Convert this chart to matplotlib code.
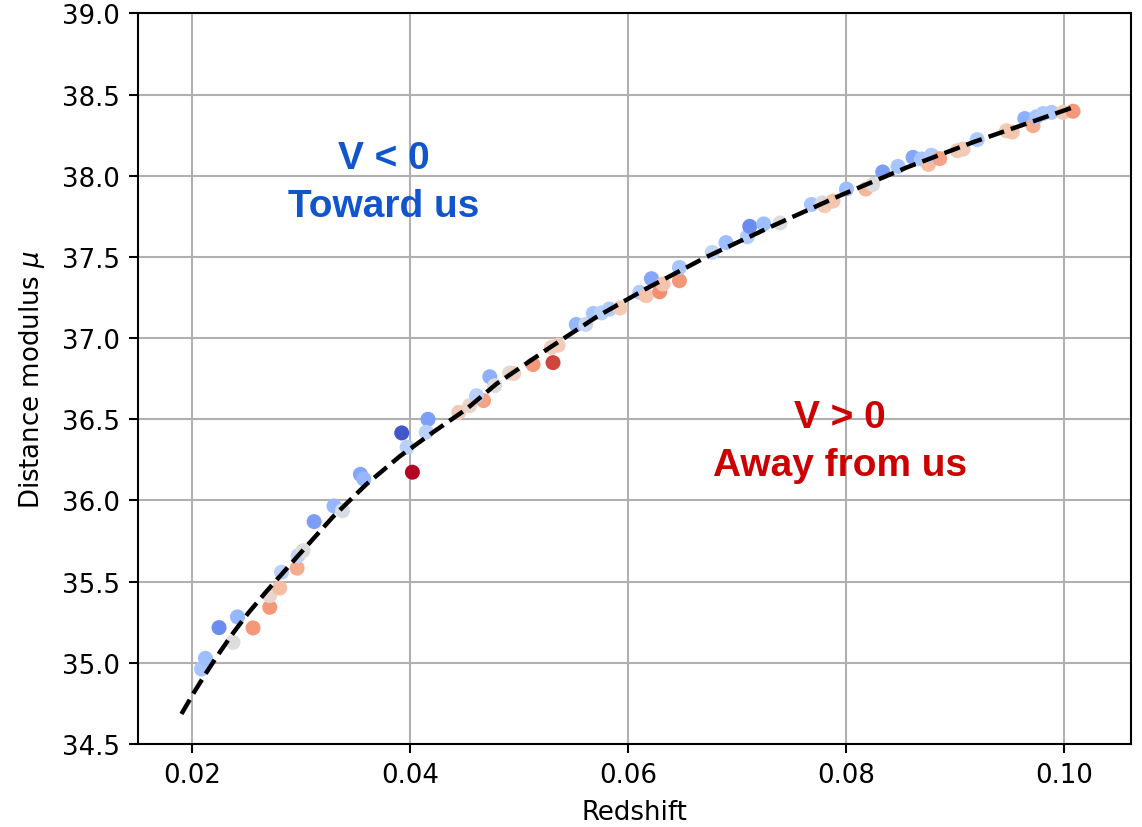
import matplotlib
matplotlib.use("Agg")
import matplotlib.pyplot as plt

# ── Observed supernovae: redshift, distance modulus, peculiar velocity (colour) ──
redshift = [
    0.02083, 0.02119, 0.02244, 0.02413, 0.02372, 0.02556, 0.02709, 0.02709,
    0.02801, 0.02817, 0.02960, 0.02969, 0.03015, 0.03116, 0.03299, 0.03376,
    0.03541, 0.03572, 0.03920, 0.03969, 0.04018, 0.04161, 0.04145, 0.04443,
    0.04544, 0.04671, 0.04606, 0.04728, 0.04773, 0.04911, 0.04948, 0.05125,
    0.05308, 0.05294, 0.05354, 0.05521, 0.05608, 0.05678, 0.05752, 0.05825,
    0.05923, 0.06104, 0.06162, 0.06211, 0.06287, 0.06317, 0.06468, 0.06468,
    0.06769, 0.06895, 0.07090, 0.07113, 0.07241, 0.07391, 0.07679, 0.07778,
    0.07801, 0.07877, 0.08000, 0.08177, 0.08241, 0.08333, 0.08473, 0.08611,
    0.08688, 0.08753, 0.08780, 0.08856, 0.09017, 0.09070, 0.09200, 0.09468,
    0.09521, 0.09636, 0.09712, 0.09743, 0.09804, 0.09881, 0.09987, 0.10079,
]
mu_obs = [
    34.962, 35.028, 35.217, 35.283, 35.127, 35.215, 35.342, 35.414,
    35.461, 35.558, 35.583, 35.660, 35.691, 35.870, 35.966, 35.937,
    36.161, 36.132, 36.416, 36.328, 36.174, 36.500, 36.420, 36.543,
    36.584, 36.615, 36.645, 36.762, 36.707, 36.785, 36.782, 36.837,
    36.849, 36.943, 36.956, 37.084, 37.084, 37.152, 37.155, 37.179,
    37.185, 37.282, 37.261, 37.366, 37.285, 37.333, 37.353, 37.435,
    37.528, 37.588, 37.624, 37.688, 37.703, 37.709, 37.823, 37.832,
    37.815, 37.844, 37.918, 37.918, 37.946, 38.023, 38.057, 38.113,
    38.103, 38.069, 38.126, 38.105, 38.154, 38.164, 38.222, 38.277,
    38.269, 38.352, 38.308, 38.363, 38.383, 38.390, 38.390, 38.397,
]
velocity = [
    -0.35, -0.40, -0.70, -0.45, 0.00, 0.50, 0.50, 0.10,
    0.30, -0.25, 0.40, -0.20, 0.00, -0.60, -0.45, -0.05,
    -0.55, -0.45, -0.95, -0.25, 1.00, -0.60, -0.25, 0.20,
    0.10, 0.45, -0.25, -0.50, 0.00, 0.05, 0.15, 0.50,
    0.85, 0.15, 0.20, -0.45, -0.15, -0.35, -0.25, -0.30,
    0.20, -0.30, 0.25, -0.55, 0.55, 0.25, 0.50, -0.35,
    -0.20, -0.40, -0.30, -0.70, -0.40, 0.00, -0.35, -0.10,
    0.20, 0.25, -0.40, 0.35, 0.00, -0.60, -0.35, -0.55,
    -0.35, 0.30, -0.30, 0.45, 0.20, 0.20, -0.30, 0.20,
    0.25, -0.50, 0.40, -0.35, -0.30, -0.30, 0.20, 0.50,
]

# ── Hubble-law model curve ──
model_z = [
    0.01899, 0.02006, 0.02113, 0.02220, 0.02358, 0.02510, 0.02679, 0.02831,
    0.02984, 0.03290, 0.03596, 0.03902, 0.04207, 0.04514, 0.04789, 0.05248,
    0.05706, 0.06165, 0.06716, 0.07327, 0.07939, 0.08550, 0.09161, 0.09773,
    0.10079,
]
model_mu = [
    34.685, 34.809, 34.925, 35.035, 35.170, 35.305, 35.440, 35.555,
    35.671, 35.900, 36.100, 36.272, 36.420, 36.563, 36.718, 36.928,
    37.130, 37.305, 37.500, 37.692, 37.877, 38.050, 38.206, 38.349,
    38.421,
]

S = 1.87  # scale factor of the original rendering

plt.rcParams.update({
    "font.size": 10 * S,
    "axes.linewidth": 0.8 * S,
    "xtick.major.width": 0.8 * S,
    "ytick.major.width": 0.8 * S,
    "xtick.major.size": 3.5 * S,
    "ytick.major.size": 3.5 * S,
    "xtick.major.pad": 3.5 * S,
    "ytick.major.pad": 3.5 * S,
    "axes.labelpad": 4.0 * S,
})

fig = plt.figure(figsize=(11.42, 8.28), dpi=100)
ax = fig.add_axes([0.1208, 0.1002, 0.8695, 0.8825])

ax.scatter(redshift, mu_obs, c=velocity, cmap="coolwarm", vmin=-1, vmax=1,
           s=117, edgecolors="none", zorder=2)
ax.plot(model_z, model_mu, color="black", linestyle="--", linewidth=3.2, zorder=3)

ax.set_xlim(0.0150, 0.1061)
ax.set_ylim(34.5, 39.0)
ax.set_xticks([0.02, 0.04, 0.06, 0.08, 0.10])
ax.set_xticklabels(["0.02", "0.04", "0.06", "0.08", "0.10"])
ax.set_yticks([34.5 + 0.5 * i for i in range(10)])
ax.grid(True, color="#b0b0b0", linewidth=0.8 * S)
ax.set_axisbelow(True)

ax.set_xlabel("Redshift")
ax.set_ylabel(r"Distance modulus $\mu$", labelpad=4.0 * S + 3)

ax.text(0.03755, 37.961, "V < 0\nToward us", color="#1155cc", fontsize=28,
        fontweight="bold", family=["Liberation Sans", "DejaVu Sans"],
        ha="center", va="center", linespacing=1.4, zorder=4)
ax.text(0.07939, 36.366, "V > 0\nAway from us", color="#cc0000", fontsize=28,
        fontweight="bold", family=["Liberation Sans", "DejaVu Sans"],
        ha="center", va="center", linespacing=1.4, zorder=4)

fig.savefig("out.png", dpi=100, facecolor="white")
